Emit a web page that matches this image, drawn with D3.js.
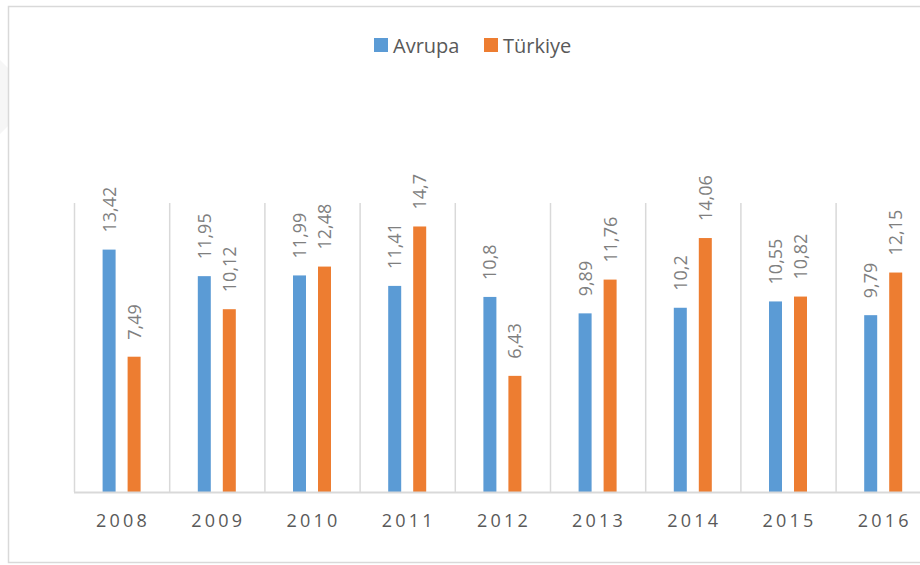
<!DOCTYPE html>
<html>
<head>
<meta charset="utf-8">
<script src="https://cdn.jsdelivr.net/npm/d3@7"></script>
<style>
  body { margin: 0; background: #fff; }
  svg { display: block; font-family: "Open Sans", "Liberation Sans", sans-serif; }
</style>
</head>
<body>
<div id="chart"></div>
<script>
const years = ["2008", "2009", "2010", "2011", "2012", "2013", "2014", "2015", "2016"];
const seriesNames = ["Avrupa", "Türkiye"];
const avrupa = [13.42, 11.95, 11.99, 11.41, 10.8, 9.89, 10.2, 10.55, 9.79];
const turkiye = [7.49, 10.12, 12.48, 14.7, 6.43, 11.76, 14.06, 10.82, 12.15];
const colors = ["#5B9BD5", "#ED7D31"];

const W = 920, H = 565;
let plot = { left: 74, top: 203, bottom: 492, step: 95.2 };

const rows = years.map((y, i) => ({ year: y, values: [avrupa[i], turkiye[i]] }));

const svg = d3.select("#chart").append("svg")
    .attr("width", W)
    .attr("height", H);

// faint watermark at the left edge
svg.append("path")
    .attr("d", "M0,60 L8,68 L8,126 L0,134 Z")
    .attr("fill", "#f6f6f6");

// chart border
svg.append("rect")
    .attr("x", 8.5).attr("y", 6.5)
    .attr("width", W + 10).attr("height", 556)
    .attr("fill", "none")
    .attr("stroke", "#d9d9d9")
    .attr("stroke-width", 1.5);

const x = d3.scaleBand()
    .domain(years)
    .range([plot.left, plot.left + plot.step * years.length])
    .padding(0);

const x1 = d3.scaleBand()
    .domain(seriesNames)
    .range([-19, 19])
    .paddingInner(0.48)
    .paddingOuter(0);

const y = d3.scaleLinear()
    .domain([0, 16])
    .range([plot.bottom, plot.top]);

// vertical gridlines between categories
svg.append("g")
    .selectAll("line")
    .data(years)
    .join("line")
    .attr("x1", d => x(d) + 0.5)
    .attr("x2", d => x(d) + 0.5)
    .attr("y1", plot.top)
    .attr("y2", plot.bottom)
    .attr("stroke", "#d9d9d9")
    .attr("stroke-width", 1.5);

const groups = svg.append("g")
    .selectAll("g")
    .data(rows)
    .join("g")
    .attr("transform", d => `translate(${x(d.year) + x.bandwidth() / 2},0)`);

groups.selectAll("rect")
    .data(d => d.values.map((v, i) => ({ name: seriesNames[i], value: v, i })))
    .join("rect")
    .attr("x", d => x1(d.name))
    .attr("width", x1.bandwidth())
    .attr("y", d => y(d.value))
    .attr("height", d => plot.bottom - y(d.value))
    .attr("fill", d => colors[d.i]);

groups.selectAll("text")
    .data(d => d.values.map((v, i) => ({ name: seriesNames[i], value: v, i })))
    .join("text")
    .attr("transform", d => `translate(${x1(d.name) + x1.bandwidth() / 2},${y(d.value) - 17}) rotate(-90)`)
    .attr("dy", "0.36em")
    .attr("text-anchor", "start")
    .style("font-size", "18px")
    .style("fill", "#7f7f7f")
    .text(d => String(d.value).replace(".", ","));

// baseline
svg.append("line")
    .attr("x1", plot.left)
    .attr("x2", W)
    .attr("y1", plot.bottom + 0.5)
    .attr("y2", plot.bottom + 0.5)
    .attr("stroke", "#d9d9d9")
    .attr("stroke-width", 2);

// category labels
svg.append("g")
    .selectAll("text")
    .data(years)
    .join("text")
    .attr("x", d => x(d) + x.bandwidth() / 2 + 1.5)
    .attr("y", 527)
    .attr("text-anchor", "middle")
    .style("font-size", "18px")
    .style("letter-spacing", "3.2px")
    .style("fill", "#595959")
    .text(d => d);

// legend
const legendX = [374, 484];
const legend = svg.append("g")
    .selectAll("g")
    .data(seriesNames)
    .join("g")
    .attr("transform", (d, i) => `translate(${legendX[i]},38)`);

legend.append("rect")
    .attr("width", 14)
    .attr("height", 14)
    .attr("fill", (d, i) => colors[i]);

legend.append("text")
    .attr("x", 19)
    .attr("y", 14.5)
    .style("font-size", "20px")
    .style("fill", "#595959")
    .text(d => d);
</script>
</body>
</html>
